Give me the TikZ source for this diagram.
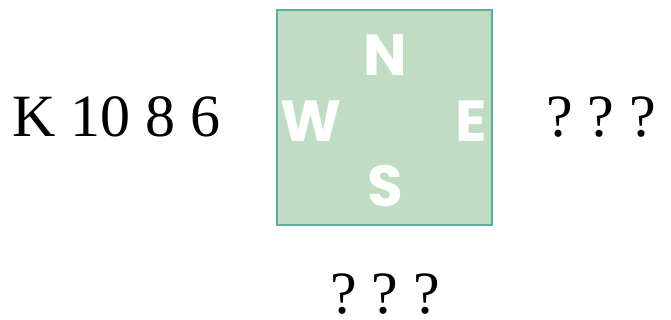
\documentclass[tikz,border=0pt]{standalone}
\usepackage{fontspec}
\setmainfont{Liberation Serif}
\newfontfamily\compassfont{Poppins}
\definecolor{boxfill}{RGB}{192,221,195}
\definecolor{boxline}{RGB}{95,172,160}
\newcommand{\qm}{\makebox[41.5pt][l]{?}}
\tikzset{
  hand/.style={font=\fontsize{60}{60}\selectfont, inner sep=0pt, text depth=0pt},
  dir/.style={font=\compassfont\bfseries\fontsize{58}{58}\selectfont, text=white, inner sep=0pt, anchor=center},
  table/.style={fill=boxfill, draw=boxline, line width=1.3pt}
}
\begin{document}
\begin{tikzpicture}[x=1pt,y=-1pt]
\useasboundingbox (0,0) rectangle (671,320);
\node[table, minimum width=215pt, minimum height=215pt, inner sep=0pt] (tbl) at (384.5,117.5) {};
\node[dir] (n) at (385,55) {N};
\node[dir] (w) at (311,121) {W};
\node[dir] (e) at (471,121) {E};
\node[dir] (s) at (385,186) {S};
\node[hand, anchor=base west] (west) at (12,137) {K 10 8 6};
\node[hand, anchor=base west] (east) at (546,137) {\qm\qm?};
\node[hand, anchor=base west] (south) at (330,313) {\qm\qm?};
\end{tikzpicture}
\end{document}
